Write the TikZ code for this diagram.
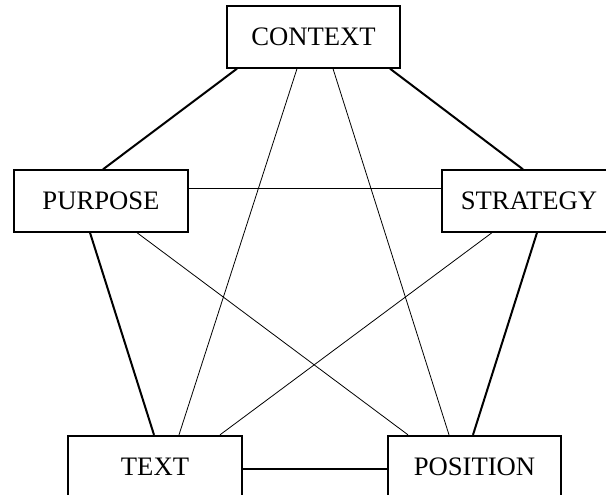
\documentclass[tikz,border=0pt]{standalone}
\usepackage{fontspec}
\setmainfont{Liberation Serif}
\usetikzlibrary{calc}
\begin{document}
\begin{tikzpicture}[x=0.75pt,y=0.75pt,
        box/.style={draw,line width=1.5pt,minimum width=130pt,minimum height=46pt,inner sep=0pt,font=\fontsize{20}{24}\selectfont},
        side/.style={line width=1.5pt},
        cross/.style={line width=0.6pt}]
        \useasboundingbox (0,0) rectangle (606,494);
        %Boxes
        \node [box] (context)  at (313.5,457)  {CONTEXT};
        \node [box] (purpose)  at (101,293)    {PURPOSE};
        \node [box] (strategy) at (529,293)    {STRATEGY};
        \node [box] (text)     at (155,27.5)   {TEXT};
        \node [box] (position) at (474.5,27.5) {POSITION};
        %Pentagon sides
        \draw [side] ($(context.south)+(-76.5,0)$) -- ($(purpose.north)+(2,0)$);
        \draw [side] ($(context.south)+(76.5,0)$) -- ($(strategy.north)+(-6,0)$);
        \draw [side] ($(purpose.south)+(-11,0)$) -- ($(text.north)+(-1,0)$);
        \draw [side] ($(strategy.south)+(8,0)$) -- ($(position.north)+(-1.5,0)$);
        \draw [side] ($(text.east)+(0,-2.5)$) -- ($(position.west)+(0,-2.5)$);
        %Star lines
        \draw [cross] ($(purpose.east)+(0,13)$) -- ($(strategy.west)+(0,13)$);
        \draw [cross] ($(context.south)+(-16.5,0)$) -- ($(text.north)+(24,0)$);
        \draw [cross] ($(context.south)+(19.5,0)$) -- ($(position.north)+(-25.5,0)$);
        \draw [cross] ($(purpose.south)+(36,0)$) -- ($(position.north)+(-66.5,0)$);
        \draw [cross] ($(strategy.south)+(-37,0)$) -- ($(text.north)+(65,0)$);
\end{tikzpicture}
\end{document}
